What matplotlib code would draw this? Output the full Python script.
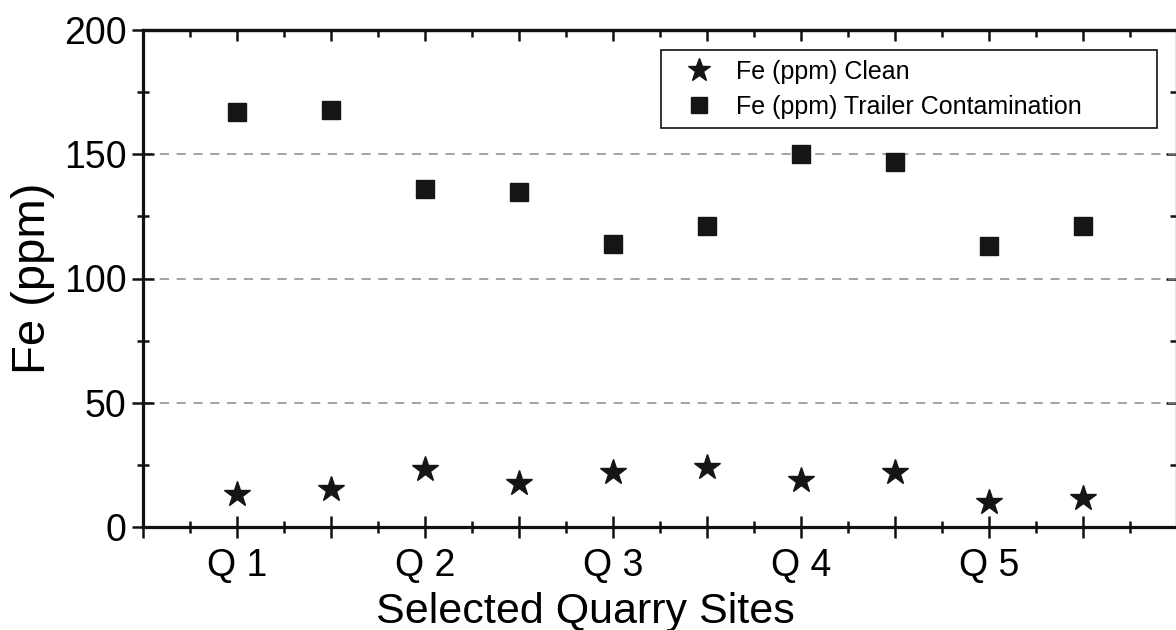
import matplotlib
matplotlib.use("Agg")
import matplotlib.pyplot as plt
from matplotlib.ticker import MultipleLocator, FixedLocator, FuncFormatter, NullFormatter

plt.rcParams['font.family'] = ['Liberation Sans', 'DejaVu Sans']

# Data
positions = [1.0, 1.5, 2.0, 2.5, 3.0, 3.5, 4.0, 4.5, 5.0, 5.5]
fe_clean = [13.3, 15.3, 23.3, 17.7, 22.1, 24.1, 18.9, 22.1, 10.0, 11.7]
fe_trailer = [167, 168, 136, 135, 114, 121, 150, 147, 113, 121]
tick_pos = [1, 2, 3, 4, 5]
tick_labels = ["Q 1", "Q 2", "Q 3", "Q 4", "Q 5"]
y_ticks = [0, 50, 100, 150, 200]
grid_levels = [50, 100, 150]

W, H = 1176, 630
fig = plt.figure(figsize=(W / 100, H / 100), dpi=100)
l, r, t, b = 143, 1177, 30, 527
ax = fig.add_axes([l / W, 1 - b / H, (r - l) / W, (b - t) / H])

ax.set_xlim(0.5, 6.0)
ax.set_ylim(0, 200)

for g in grid_levels:
    ax.axhline(g, color='#8a8a8a', lw=1.1, dashes=(6, 5), zorder=1)

ax.plot(positions, fe_clean, linestyle='none', marker='*', ms=19,
        color='#151515', label='Fe (ppm) Clean', zorder=3)
ax.plot(positions, fe_trailer, linestyle='none', marker='s', ms=13.5,
        color='#151515', label='Fe (ppm) Trailer Contamination', zorder=3)

for s in ax.spines.values():
    s.set_linewidth(2.3)
    s.set_color('#111111')

# bottom / left ticks (cross the spine)
lbl = dict(zip(tick_pos, tick_labels))
ax.xaxis.set_major_locator(MultipleLocator(0.5))
ax.xaxis.set_minor_locator(MultipleLocator(0.25))
ax.xaxis.set_major_formatter(FuncFormatter(
    lambda v, p: lbl.get(int(round(v)), "") if abs(v - round(v)) < 1e-6 else ""))
ax.yaxis.set_major_locator(FixedLocator(y_ticks))
ax.yaxis.set_minor_locator(MultipleLocator(25))

ax.tick_params(axis='both', which='major', direction='inout', length=16,
               width=1.8, color='#111111', labelsize=27, pad=4)
ax.tick_params(axis='both', which='minor', direction='inout', length=8,
               width=1.8, color='#111111')
ax.tick_params(axis='x', which='major', pad=7)

# top / right ticks (inward only)
secx = ax.secondary_xaxis('top')
secx.xaxis.set_major_locator(MultipleLocator(0.5))
secx.xaxis.set_minor_locator(MultipleLocator(0.25))
secx.xaxis.set_major_formatter(NullFormatter())
secx.tick_params(which='major', direction='in', length=8, width=1.8, color='#111111')
secx.tick_params(which='minor', direction='in', length=5, width=1.8, color='#111111')
secx.spines['top'].set_linewidth(2.3)

secy = ax.secondary_yaxis('right')
secy.yaxis.set_major_locator(FixedLocator(y_ticks))
secy.yaxis.set_minor_locator(MultipleLocator(25))
secy.yaxis.set_major_formatter(NullFormatter())
secy.tick_params(which='major', direction='in', length=8, width=1.8, color='#111111')
secy.tick_params(which='minor', direction='in', length=5, width=1.8, color='#111111')
secy.spines['right'].set_linewidth(2.3)

ax.set_xlabel("Selected Quarry Sites", fontsize=31)
ax.xaxis.set_label_coords((585 - l) / (r - l), -(592 - b) / (b - t),
                          transform=ax.transAxes)
ax.xaxis.label.set_va('top')
ax.set_ylabel("Fe (ppm)", fontsize=34, labelpad=6)

leg = ax.legend(loc='upper left',
                bbox_to_anchor=((661 - l) / (r - l), (b - 50) / (b - t),
                                (1157 - 661) / (r - l), 0.0),
                mode='expand', borderaxespad=0, fontsize=18,
                frameon=True, fancybox=False, edgecolor='#111111',
                framealpha=1, borderpad=0.38, labelspacing=0.45,
                handlelength=2.3, handletextpad=0.3, markerscale=0.9)
leg.get_frame().set_linewidth(1.2)

fig.savefig("out.png", dpi=100)
